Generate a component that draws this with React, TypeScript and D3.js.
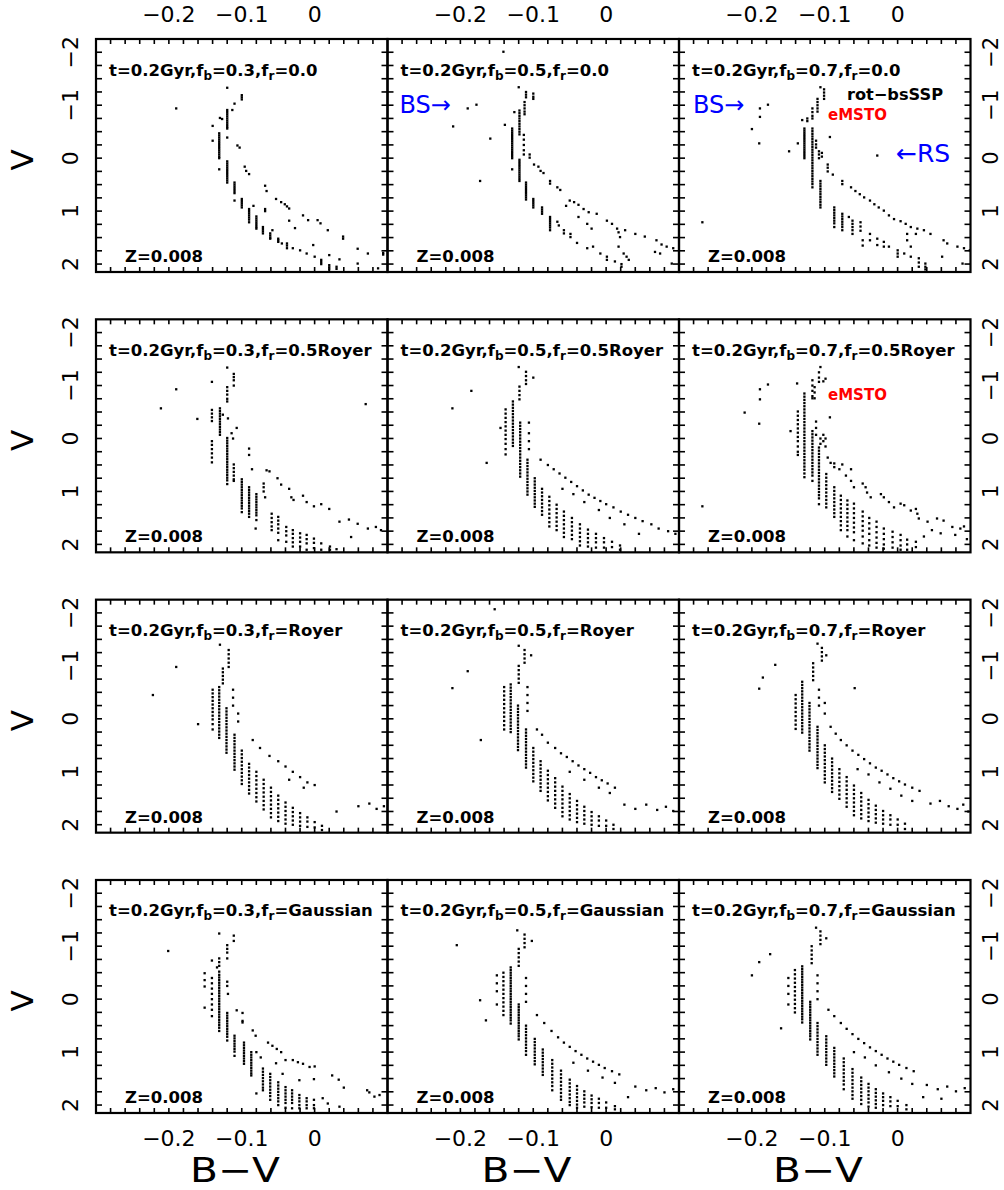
import React from 'react';
import * as d3 from 'd3';

// ---- labels / ticks ----
const fbValues = ['0.3', '0.5', '0.7'];
const frValues = ['0.0', '0.5Royer', 'Royer', 'Gaussian'];
const ageLabel = 't=0.2Gyr';
const metalLabel = 'Z=0.008';
const xTickValues = [-0.2, -0.1, 0];
const yTickValues = [-2, -1, 0, 1, 2];
const xDomain = [-0.3, 0.1];
const yDomain = [-2.25, 2.15];

// each column: [B-V, V, V, ...]
const p00 = [
  [-0.190, -0.94],
  [-0.120, -1.33, -0.91, -0.87, -0.83, -0.79, -0.75, -0.71, -0.67, -0.63, -0.59, -0.56, -0.39],
  [-0.100, -1.19, -1.15, -1.11], [-0.110, -1.03], [-0.113, -0.91], [-0.130, -0.76], [-0.127, -0.74],
  [-0.140, -0.61, -0.33],
  [-0.131, -0.47, -0.43, -0.39, -0.35, -0.31, -0.27, -0.23, -0.19, -0.15, -0.11, -0.07, -0.03, 0.0, 0.21],
  [-0.106, -0.24], [-0.103, -0.20],
  [-0.120, 0.06, 0.10, 0.14, 0.18, 0.22, 0.26, 0.30, 0.34, 0.38, 0.42, 0.46],
  [-0.096, 0.16], [-0.094, 0.24], [-0.090, 0.30],
  [-0.110, 0.46, 0.50, 0.54, 0.58, 0.62, 0.66, 0.80],
  [-0.068, 0.52], [-0.066, 0.62],
  [-0.100, 0.77, 0.81, 0.85, 0.89, 0.93], [-0.084, 0.90],
  [-0.053, 0.77], [-0.046, 0.83], [-0.041, 0.87], [-0.038, 0.91], [-0.035, 0.95],
  [-0.068, 0.96, 1.00],
  [-0.090, 0.96, 1.00, 1.04, 1.08, 1.12, 1.16, 1.21],
  [-0.035, 1.18], [-0.027, 1.32],
  [-0.016, 1.08], [-0.009, 1.17], [0.004, 1.17], [0.008, 1.23], [0.018, 1.36],
  [-0.080, 1.10, 1.14, 1.18, 1.22, 1.26, 1.30, 1.33],
  [-0.071, 1.30, 1.34, 1.38, 1.42],
  [-0.061, 1.42, 1.46, 1.50, 1.52], [-0.058, 1.36],
  [-0.050, 1.52, 1.55, 1.58], [-0.045, 1.61], [-0.038, 1.61, 1.65, 1.70], [-0.030, 1.70],
  [-0.020, 1.74], [-0.011, 1.80], [0.000, 1.86], [0.009, 1.92, 1.96, 2.00],
  [0.020, 2.02, 2.06, 2.10], [0.030, 2.05, 2.09],
  [0.039, 1.48, 1.52], [0.059, 1.71, 1.99], [0.073, 1.80], [0.094, 1.79, 1.82], [0.087, 2.08],
  [-0.002, 1.64], [0.020, 1.83], [0.034, 1.91],
];

const p01 = [
  [-0.141, -2.01], [-0.120, -1.34],
  [-0.110, -1.25, -1.20, -1.15], [-0.100, -1.22, -1.16, -1.12],
  [-0.112, -1.06, -1.00, -0.94, -0.88, -0.83],
  [-0.119, -0.90, -0.85, -0.80, -0.75, -0.70, -0.65, -0.60, -0.55, -0.50, -0.45],
  [-0.126, -0.87],
  [-0.190, -0.94], [-0.178, -1.01], [-0.210, -0.60], [-0.159, -0.37], [-0.173, 0.43], [-0.139, -0.63],
  [-0.129, -0.56, -0.52, -0.48, -0.44, -0.40, -0.36, -0.32, -0.28, -0.24, -0.20, -0.16, -0.12, -0.08, -0.04, 0.00, 0.21],
  [-0.113, -0.44, -0.35, -0.25, -0.15, -0.07],
  [-0.119, 0.03, 0.07, 0.11, 0.15, 0.19, 0.23, 0.27, 0.31, 0.35, 0.39, 0.43],
  [-0.105, -0.07, -0.01],
  [-0.099, 0.12], [-0.093, 0.16], [-0.090, 0.24], [-0.086, 0.28],
  [-0.077, 0.43, 0.48],
  [-0.110, 0.46, 0.50, 0.54, 0.58, 0.62, 0.66, 0.70, 0.74, 0.78],
  [-0.067, 0.55], [-0.063, 0.60],
  [-0.100, 0.77, 0.81, 0.85, 0.89, 0.93],
  [-0.050, 0.80], [-0.044, 0.83], [-0.038, 0.88], [-0.031, 0.96], [-0.024, 1.02], [-0.013, 1.05],
  [-0.088, 0.93, 0.97, 1.01, 1.05], [-0.055, 0.90],
  [-0.077, 1.11, 1.15, 1.19, 1.23, 1.27, 1.31, 1.36],
  [-0.067, 1.20], [-0.065, 1.27],
  [-0.058, 1.36, 1.42], [-0.049, 1.43, 1.49], [-0.040, 1.60], [-0.026, 1.70], [-0.018, 1.67],
  [-0.008, 1.80], [0.001, 1.86, 1.92], [0.012, 1.95], [0.021, 2.00, 2.05],
  [-0.038, 1.11], [-0.026, 1.24], [-0.020, 1.33],
  [0.001, 1.18], [0.008, 1.24], [0.015, 1.33], [0.017, 1.40], [0.019, 1.49], [0.026, 1.36], [0.040, 1.43], [0.053, 1.48],
  [0.017, 1.67], [0.024, 1.80], [0.028, 1.86], [0.031, 1.92],
  [0.069, 1.55], [0.076, 1.63], [0.083, 1.67], [0.092, 1.70], [0.067, 1.77], [0.074, 1.80], [0.090, 1.99],
];

const p02 = [
  [-0.106, -1.34],
  [-0.101, -1.30, -1.24, -1.18, -1.12],
  [-0.110, -1.12, -1.06, -1.00, -0.94, -0.88],
  [-0.117, -0.94, -0.87, -0.80, -0.75],
  [-0.124, -0.75, -0.70], [-0.131, -0.72],
  [-0.128, -0.56, -0.52, -0.48, -0.44, -0.40, -0.36, -0.32, -0.28, -0.24, -0.20, -0.16, -0.12, -0.08, -0.04, 0.00],
  [-0.137, -0.28], [-0.149, -0.13],
  [-0.189, -0.94, -0.78], [-0.178, -1.01], [-0.200, -0.55], [-0.190, -0.28], [-0.268, 1.21],
  [-0.117, -0.56, -0.51, -0.46, -0.41, -0.36, -0.31, -0.26, -0.21, -0.16, -0.11, -0.06, -0.01, 0.04, 0.09, 0.14, 0.19, 0.24, 0.29, 0.34, 0.39, 0.44, 0.49, 0.55],
  [-0.112, -0.33, -0.26, -0.20],
  [-0.108, -0.13, -0.07, 0.00], [-0.104, -0.10, -0.03],
  [-0.093, -0.40], [-0.028, -0.05],
  [-0.096, 0.12, 0.18, 0.25], [-0.089, 0.31],
  [-0.106, 0.43, 0.48, 0.53, 0.58, 0.63, 0.68, 0.73, 0.78, 0.83, 0.88, 0.93],
  [-0.076, 0.43, 0.49],
  [-0.064, 0.55], [-0.058, 0.62], [-0.052, 0.68], [-0.046, 0.74], [-0.038, 0.80], [-0.032, 0.87],
  [-0.026, 0.93], [-0.019, 0.99], [-0.012, 1.08], [-0.005, 1.15], [0.004, 1.19], [0.011, 1.24],
  [0.018, 1.30], [0.027, 1.33], [0.036, 1.36], [0.045, 1.43],
  [-0.087, 0.93, 0.98, 1.03, 1.08, 1.13, 1.18, 1.23, 1.30],
  [-0.076, 1.05, 1.10, 1.15, 1.20, 1.25, 1.30, 1.36],
  [-0.062, 1.18, 1.24, 1.30, 1.36, 1.43], [-0.067, 1.11],
  [-0.051, 1.21, 1.29, 1.37], [-0.048, 1.55, 1.65],
  [-0.038, 1.43, 1.55], [-0.028, 1.52, 1.64], [-0.019, 1.58, 1.67], [-0.012, 1.67],
  [0.000, 1.74, 1.80, 1.86], [0.009, 1.80], [0.018, 1.86], [0.029, 1.89, 1.97, 2.05], [0.038, 1.99, 2.05, 2.10],
  [0.013, 1.43, 1.55], [0.018, 1.67], [0.025, 1.43],
  [0.063, 1.55], [0.068, 1.61], [0.082, 1.67], [0.091, 1.70], [0.099, 1.74], [0.089, 1.99], [0.061, 1.86],
];

const p10 = [
  [-0.120, -1.34], [-0.111, -1.22, -1.16, -1.10, -1.00], [-0.141, -1.07],
  [-0.120, -0.97, -0.90, -0.83, -0.75, -0.70],
  [-0.190, -0.93], [-0.211, -0.57], [-0.161, -0.37], [0.070, -0.65],
  [-0.141, -0.54, -0.47, -0.40, -0.33],
  [-0.130, -0.57, -0.52, -0.47, -0.42, -0.37, -0.32, -0.27, -0.22, -0.17, -0.12, -0.07],
  [-0.126, -0.45], [-0.119, -0.38],
  [-0.114, -0.10], [-0.107, -0.20], [-0.112, 0.00],
  [-0.141, 0.05, 0.12, 0.20, 0.28, 0.36, 0.45],
  [-0.120, -0.01, 0.04, 0.09, 0.14, 0.19, 0.24, 0.29, 0.34, 0.39, 0.44, 0.49, 0.54, 0.59, 0.64, 0.69, 0.74, 0.79, 0.86],
  [-0.090, 0.19, 0.31],
  [-0.111, 0.49, 0.56, 0.63, 0.70, 0.77, 0.80],
  [-0.086, 0.58],
  [-0.100, 0.77, 0.82, 0.87, 0.92, 0.97, 1.02, 1.07, 1.12, 1.17, 1.22, 1.27, 1.32, 1.39],
  [-0.066, 0.60], [-0.062, 0.62], [-0.051, 0.75],
  [-0.046, 0.87], [-0.035, 0.95], [-0.032, 1.11], [-0.029, 1.16], [-0.016, 1.08], [-0.011, 1.20],
  [-0.001, 1.28], [0.009, 1.24], [0.020, 1.33],
  [-0.090, 0.92, 0.97, 1.02, 1.07, 1.12, 1.17, 1.22, 1.27, 1.32, 1.37, 1.42, 1.48],
  [-0.080, 1.05, 1.10, 1.15, 1.20, 1.25, 1.30, 1.35, 1.40, 1.45, 1.54],
  [-0.070, 0.85, 0.92, 1.00], [-0.068, 1.11],
  [-0.059, 1.42, 1.50, 1.58, 1.66, 1.73],
  [-0.050, 1.48, 1.55, 1.62, 1.70, 1.78, 1.92],
  [-0.039, 1.67, 1.75, 1.83, 1.95],
  [-0.030, 1.73, 1.80, 1.88, 1.96, 2.04],
  [-0.020, 1.79, 1.87, 1.95, 2.04],
  [-0.011, 1.82, 1.90, 1.98, 2.10],
  [-0.001, 1.89, 1.97, 2.07], [0.009, 1.98, 2.10], [0.021, 2.04, 2.10], [0.030, 2.09],
  [-0.081, 1.70],
  [0.034, 1.57], [0.047, 1.53], [0.059, 1.61], [0.073, 1.70], [0.084, 1.67], [0.091, 1.73], [0.050, 1.86],
];

const p11 = [
  [-0.120, -1.35], [-0.110, -1.26, -1.18, -1.10, -1.03], [-0.100, -1.15],
  [-0.119, -0.98, -0.90, -0.82, -0.74],
  [-0.211, -0.57], [-0.164, 0.46], [-0.145, -0.20], [-0.185, -0.90],
  [-0.138, -0.55, -0.47, -0.39, -0.31, -0.23, -0.15, -0.07, 0.01, 0.10, 0.20, 0.30],
  [-0.128, -0.70, -0.64, -0.58, -0.52, -0.46, -0.40, -0.34, -0.28, -0.22, -0.16, -0.10, -0.04, 0.02, 0.08, 0.14],
  [-0.118, -0.30, -0.24, -0.18, -0.12, -0.06, 0.00, 0.06, 0.12, 0.18, 0.24, 0.30, 0.36, 0.42, 0.48, 0.54, 0.60, 0.66, 0.72],
  [-0.106, -0.30, -0.10, 0.05, 0.20],
  [-0.108, 0.40, 0.46, 0.52, 0.58, 0.64, 0.70, 0.76, 0.82, 0.88, 0.94, 1.00, 1.06],
  [-0.098, 0.75, 0.81, 0.87, 0.93, 0.99, 1.05, 1.11, 1.17, 1.23, 1.29],
  [-0.088, 0.95, 1.02, 1.09, 1.16, 1.23, 1.30, 1.37, 1.44],
  [-0.078, 1.10, 1.18, 1.26, 1.34, 1.42, 1.50, 1.58, 1.66],
  [-0.068, 1.25, 1.33, 1.41, 1.49, 1.57, 1.65, 1.73],
  [-0.058, 1.38, 1.46, 1.54, 1.62, 1.70, 1.78, 1.86],
  [-0.047, 1.50, 1.58, 1.66, 1.74, 1.82, 1.90],
  [-0.036, 1.62, 1.70, 1.78, 1.86, 1.94, 2.02],
  [-0.025, 1.72, 1.80, 1.88, 1.96, 2.04],
  [-0.014, 1.80, 1.88, 1.96, 2.06], [-0.003, 1.88, 1.96, 2.06], [0.008, 1.95, 2.05], [0.019, 2.02, 2.10],
  [-0.090, 0.40], [-0.080, 0.50], [-0.072, 0.58], [-0.064, 0.66], [-0.056, 0.74], [-0.048, 0.82],
  [-0.040, 0.90], [-0.032, 0.98], [-0.024, 1.06], [-0.016, 1.12], [-0.008, 1.18], [0.000, 1.24],
  [0.010, 1.30], [0.020, 1.38], [0.030, 1.44], [0.040, 1.50], [0.050, 1.56], [0.062, 1.62],
  [-0.060, 0.95], [-0.045, 1.05], [-0.030, 1.20], [-0.010, 1.35], [0.005, 1.50], [0.025, 1.62],
  [0.072, 1.70], [0.085, 1.75], [0.095, 1.80], [0.045, 1.80],
];

const p12 = [
  [-0.106, -1.35], [-0.108, -1.25, -1.15, -1.07], [-0.099, -1.13], [-0.102, -1.08], [-0.138, -1.04],
  [-0.117, -1.10, -1.00, -0.90, -0.80, -0.76], [-0.114, -0.97, -0.87, -0.76],
  [-0.189, -0.93, -0.74], [-0.178, -1.02], [-0.210, -0.49], [-0.190, -0.28], [-0.268, 1.28],
  [-0.147, -0.14], [-0.093, -0.40],
  [-0.128, -0.85, -0.79, -0.73, -0.67, -0.61, -0.55, -0.49, -0.43, -0.37, -0.31, -0.25, -0.19, -0.13, -0.07, -0.01, 0.05, 0.11, 0.17, 0.23, 0.29, 0.35, 0.41, 0.47, 0.53, 0.59, 0.66, 0.73],
  [-0.137, -0.51, -0.43, -0.35, -0.27, -0.19, -0.11, -0.03, 0.05, 0.15, 0.25, 0.31],
  [-0.117, -0.14, -0.08, -0.02, 0.04, 0.10, 0.16, 0.22, 0.28, 0.34, 0.40, 0.46, 0.52, 0.58, 0.64, 0.70, 0.80],
  [-0.112, -0.32, -0.20, -0.07],
  [-0.106, 0.00, 0.10], [-0.102, -0.07, 0.05], [-0.099, 0.00, 0.15],
  [-0.108, 0.17, 0.23, 0.29, 0.35, 0.41, 0.47, 0.53, 0.59, 0.65, 0.71, 0.77, 0.83, 0.89, 0.95, 1.01, 1.07, 1.13, 1.24],
  [-0.096, 0.36], [-0.092, 0.46],
  [-0.098, 0.67, 0.74, 0.81, 0.88, 0.95, 1.02, 1.09, 1.16, 1.23, 1.30],
  [-0.087, 0.54, 0.47],
  [-0.087, 0.92, 0.99, 1.06, 1.13, 1.20, 1.27, 1.34, 1.41, 1.48],
  [-0.080, 0.58], [-0.076, 0.49], [-0.071, 0.70], [-0.064, 0.58, 0.80], [-0.060, 0.92],
  [-0.048, 0.85], [-0.044, 0.92], [-0.042, 1.02], [-0.037, 1.11], [-0.023, 1.05], [-0.019, 1.11],
  [-0.012, 1.20], [-0.005, 1.30], [0.004, 1.23], [0.009, 1.26], [0.018, 1.36], [0.025, 1.33],
  [0.027, 1.42], [0.029, 1.51],
  [-0.078, 1.08, 1.16, 1.24, 1.32, 1.40, 1.48, 1.56, 1.64, 1.73],
  [-0.069, 1.17, 1.25, 1.33, 1.41, 1.49, 1.57, 1.65, 1.73, 1.85],
  [-0.060, 1.23, 1.32, 1.41, 1.50, 1.59, 1.68, 1.77, 1.92],
  [-0.048, 1.38, 1.47, 1.56, 1.65, 1.74, 1.85, 1.98],
  [-0.039, 1.50, 1.60, 1.70, 1.80, 1.92, 2.02],
  [-0.029, 1.57, 1.67, 1.77, 1.87, 1.97, 2.06],
  [-0.019, 1.70, 1.80, 1.90, 2.00, 2.08],
  [-0.007, 1.76, 1.86, 1.96, 2.06],
  [0.004, 1.82, 1.92, 2.02, 2.10], [0.013, 1.91, 2.00, 2.10], [0.025, 1.95, 2.05],
  [0.041, 1.57], [0.054, 1.51], [0.063, 1.55], [0.036, 1.85], [0.047, 1.73], [0.075, 1.67],
  [0.086, 1.70], [0.091, 1.66], [0.059, 1.79], [0.079, 1.82], [0.095, 1.90],
];

const p20 = [
  [-0.190, -0.98], [-0.222, -0.45], [-0.160, 0.10],
  [-0.130, -1.40], [-0.118, -1.30, -1.22, -1.14, -1.06, -0.98],
  [-0.126, -0.95, -0.88, -0.81, -0.74, -0.67],
  [-0.140, -0.55, -0.48, -0.41, -0.34, -0.27, -0.20, -0.13, -0.06, 0.01, 0.10, 0.20],
  [-0.131, -0.60, -0.54, -0.48, -0.42, -0.36, -0.30, -0.24, -0.18, -0.12, -0.06, 0.00, 0.06, 0.12, 0.18, 0.24, 0.30, 0.36],
  [-0.121, -0.20, -0.14, -0.08, -0.02, 0.04, 0.10, 0.16, 0.22, 0.28, 0.34, 0.40, 0.46, 0.52, 0.58, 0.64],
  [-0.110, 0.30, 0.36, 0.42, 0.48, 0.54, 0.60, 0.66, 0.72, 0.78, 0.84, 0.90, 0.96],
  [-0.112, -0.55, -0.40, -0.25], [-0.105, -0.10, 0.05],
  [-0.100, 0.60, 0.67, 0.74, 0.81, 0.88, 0.95, 1.02, 1.09, 1.16, 1.23],
  [-0.090, 0.85, 0.92, 0.99, 1.06, 1.13, 1.20, 1.27, 1.34, 1.41],
  [-0.080, 1.00, 1.08, 1.16, 1.24, 1.32, 1.40, 1.48, 1.56],
  [-0.070, 1.15, 1.23, 1.31, 1.39, 1.47, 1.55, 1.63, 1.71],
  [-0.060, 1.30, 1.38, 1.46, 1.54, 1.62, 1.70, 1.78, 1.86],
  [-0.050, 1.45, 1.53, 1.61, 1.69, 1.77, 1.85, 1.93],
  [-0.040, 1.58, 1.66, 1.74, 1.82, 1.90, 1.98],
  [-0.030, 1.68, 1.76, 1.84, 1.92, 2.00],
  [-0.020, 1.78, 1.86, 1.94, 2.02], [-0.010, 1.86, 1.94, 2.04], [0.000, 1.95, 2.05], [0.010, 2.02, 2.10],
  [-0.085, 0.40], [-0.075, 0.55], [-0.062, 0.70], [-0.050, 0.80], [-0.040, 0.90], [-0.030, 1.00],
  [-0.020, 1.10], [-0.010, 1.20], [0.000, 1.25], [-0.035, 1.15], [-0.015, 1.30],
  [0.060, 1.65], [0.075, 1.60], [0.085, 1.70], [0.095, 1.65], [0.030, 1.75],
];

const p21 = [
  [-0.153, -2.07], [-0.211, -0.58], [-0.190, -0.90], [-0.172, 0.40],
  [-0.120, -1.38], [-0.112, -1.30, -1.22, -1.14, -1.06], [-0.103, -1.20],
  [-0.120, -1.00, -0.92, -0.84, -0.76, -0.68],
  [-0.140, -0.60, -0.52, -0.44, -0.36, -0.28, -0.20, -0.12, -0.04, 0.04, 0.12, 0.20],
  [-0.131, -0.65, -0.59, -0.53, -0.47, -0.41, -0.35, -0.29, -0.23, -0.17, -0.11, -0.05, 0.01, 0.07, 0.13, 0.19, 0.25],
  [-0.121, -0.25, -0.19, -0.13, -0.07, -0.01, 0.05, 0.11, 0.17, 0.23, 0.29, 0.35, 0.41, 0.47, 0.53, 0.59],
  [-0.110, 0.20, 0.26, 0.32, 0.38, 0.44, 0.50, 0.56, 0.62, 0.68, 0.74, 0.80, 0.86, 0.92],
  [-0.108, -0.60, -0.45, -0.30, -0.15],
  [-0.100, 0.55, 0.62, 0.69, 0.76, 0.83, 0.90, 0.97, 1.04, 1.11, 1.18],
  [-0.090, 0.80, 0.87, 0.94, 1.01, 1.08, 1.15, 1.22, 1.29, 1.36],
  [-0.080, 0.98, 1.06, 1.14, 1.22, 1.30, 1.38, 1.46, 1.54],
  [-0.070, 1.12, 1.20, 1.28, 1.36, 1.44, 1.52, 1.60, 1.68],
  [-0.060, 1.28, 1.36, 1.44, 1.52, 1.60, 1.68, 1.76, 1.84],
  [-0.050, 1.42, 1.50, 1.58, 1.66, 1.74, 1.82, 1.90],
  [-0.040, 1.55, 1.63, 1.71, 1.79, 1.87, 1.95],
  [-0.030, 1.66, 1.74, 1.82, 1.90, 1.98],
  [-0.020, 1.76, 1.84, 1.92, 2.00], [-0.010, 1.84, 1.92, 2.02], [0.000, 1.92, 2.02], [0.010, 2.00, 2.08],
  [-0.095, 0.20], [-0.088, 0.30], [-0.080, 0.45], [-0.070, 0.55], [-0.062, 0.65], [-0.054, 0.72],
  [-0.046, 0.80], [-0.038, 0.88], [-0.030, 0.95], [-0.022, 1.02], [-0.014, 1.10], [-0.006, 1.16],
  [0.002, 1.22], [0.012, 1.30], [-0.050, 1.00], [-0.030, 1.15], [-0.010, 1.30], [0.005, 1.40],
  [0.040, 1.70], [0.055, 1.62], [0.070, 1.72], [0.082, 1.66], [0.092, 1.74], [0.025, 1.62],
];

const p22 = [
  [-0.168, -1.02], [-0.190, -0.57], [-0.185, -0.78], [-0.059, -0.58],
  [-0.110, -1.42], [-0.104, -1.34, -1.26, -1.18, -1.10], [-0.098, -1.20],
  [-0.116, -1.05, -0.97, -0.89, -0.81, -0.73],
  [-0.140, -0.45, -0.37, -0.29, -0.21, -0.13, -0.05, 0.03, 0.11, 0.19],
  [-0.131, -0.70, -0.64, -0.58, -0.52, -0.46, -0.40, -0.34, -0.28, -0.22, -0.16, -0.10, -0.04, 0.02, 0.08, 0.14, 0.20, 0.26],
  [-0.121, -0.30, -0.24, -0.18, -0.12, -0.06, 0.00, 0.06, 0.12, 0.18, 0.24, 0.30, 0.36, 0.42, 0.48, 0.54, 0.60],
  [-0.110, 0.15, 0.21, 0.27, 0.33, 0.39, 0.45, 0.51, 0.57, 0.63, 0.69, 0.75, 0.81, 0.87, 0.93],
  [-0.108, -0.55, -0.40, -0.25], [-0.100, -0.30, -0.10],
  [-0.100, 0.50, 0.57, 0.64, 0.71, 0.78, 0.85, 0.92, 0.99, 1.06, 1.13, 1.20],
  [-0.090, 0.75, 0.82, 0.89, 0.96, 1.03, 1.10, 1.17, 1.24, 1.31, 1.38],
  [-0.080, 0.95, 1.03, 1.11, 1.19, 1.27, 1.35, 1.43, 1.51],
  [-0.070, 1.10, 1.18, 1.26, 1.34, 1.42, 1.50, 1.58, 1.66],
  [-0.060, 1.26, 1.34, 1.42, 1.50, 1.58, 1.66, 1.74, 1.82],
  [-0.050, 1.40, 1.48, 1.56, 1.64, 1.72, 1.80, 1.88],
  [-0.040, 1.53, 1.61, 1.69, 1.77, 1.85, 1.93],
  [-0.030, 1.64, 1.72, 1.80, 1.88, 1.96],
  [-0.020, 1.74, 1.82, 1.90, 1.98], [-0.010, 1.82, 1.90, 2.00], [0.000, 1.90, 2.00], [0.010, 1.98, 2.08],
  [-0.092, 0.15], [-0.085, 0.28], [-0.078, 0.40], [-0.070, 0.50], [-0.062, 0.60], [-0.054, 0.68],
  [-0.046, 0.76], [-0.038, 0.84], [-0.030, 0.92], [-0.022, 0.98], [-0.014, 1.05], [-0.006, 1.12],
  [0.002, 1.18], [0.010, 1.24], [0.020, 1.30], [0.030, 1.36], [-0.055, 0.95], [-0.040, 1.05],
  [-0.025, 1.20], [-0.010, 1.32], [0.005, 1.45], [0.020, 1.55],
  [0.045, 1.60], [0.058, 1.55], [0.070, 1.65], [0.082, 1.70], [0.090, 1.62], [0.097, 1.75],
];

const p30 = [
  [-0.201, -0.91], [-0.131, -1.24], [-0.111, -1.20, -1.10],
  [-0.120, -1.02, -0.95, -0.88, -0.77],
  [-0.131, -0.77, -0.70, -0.63, -0.52], [-0.141, -0.73], [-0.134, -0.60],
  [-0.151, -0.49, -0.36, -0.24, 0.16],
  [-0.141, -0.40, -0.30, -0.20, -0.10, 0.00, 0.10, 0.20, 0.32],
  [-0.131, -0.46, -0.41, -0.36, -0.31, -0.26, -0.21, -0.16, -0.11, -0.06, -0.01, 0.04, 0.09, 0.14, 0.19, 0.24, 0.29, 0.34, 0.39, 0.44, 0.49, 0.54, 0.60],
  [-0.120, -0.33, -0.25], [-0.119, -0.10],
  [-0.120, 0.26, 0.31, 0.36, 0.41, 0.46, 0.51, 0.56, 0.61, 0.66, 0.71, 0.78],
  [-0.107, 0.21], [-0.099, 0.26, 0.41, 0.44],
  [-0.110, 0.69, 0.74, 0.79, 0.84, 0.89, 0.94, 0.99, 1.07],
  [-0.085, 0.59], [-0.081, 0.69],
  [-0.097, 0.82, 0.87, 0.92, 0.97, 1.02, 1.07, 1.12, 1.17, 1.22],
  [-0.087, 1.00, 1.05, 1.10, 1.15, 1.20, 1.25, 1.30, 1.35, 1.40, 1.44],
  [-0.080, 1.00], [-0.074, 1.10],
  [-0.064, 0.82], [-0.058, 0.88], [-0.052, 0.94], [-0.046, 1.00], [-0.040, 1.15], [-0.030, 1.15],
  [-0.023, 1.19], [-0.016, 1.22], [-0.007, 1.28], [0.000, 1.27], [-0.001, 1.51], [0.024, 1.44],
  [0.033, 1.52], [0.040, 1.67], [0.072, 1.72], [0.075, 1.76], [0.082, 1.84], [0.089, 1.81],
  [-0.071, 1.31, 1.37, 1.43, 1.49, 1.55, 1.61, 1.67, 1.72],
  [-0.080, 1.78],
  [-0.061, 1.41, 1.47, 1.53, 1.59, 1.65, 1.71, 1.77, 1.83, 1.90],
  [-0.053, 1.21],
  [-0.050, 1.57, 1.63, 1.69, 1.75, 1.81, 1.87, 1.93, 2.00],
  [-0.044, 1.41],
  [-0.040, 1.66, 1.72, 1.78, 1.84, 1.90, 1.96, 2.05],
  [-0.031, 1.72, 1.78, 1.84, 1.90, 1.96, 2.06],
  [-0.021, 1.53], [-0.021, 1.81, 1.87, 1.93, 2.00, 2.06],
  [-0.011, 1.87, 1.93, 2.00, 2.06],
  [-0.001, 1.90, 2.00, 2.06],
  [0.011, 1.87], [0.018, 1.97], [0.034, 2.03],
];

const p31 = [
  [-0.205, -1.02], [-0.173, 0.02], [-0.165, 0.40],
  [-0.122, -1.30], [-0.112, -1.22, -1.14, -1.06, -0.98], [-0.102, -1.10],
  [-0.120, -0.95, -0.87, -0.79, -0.71, -0.63],
  [-0.150, -0.45, -0.30, -0.15, 0.10],
  [-0.141, -0.50, -0.42, -0.34, -0.26, -0.18, -0.10, -0.02, 0.06, 0.14, 0.22, 0.30],
  [-0.131, -0.60, -0.55, -0.50, -0.45, -0.40, -0.35, -0.30, -0.25, -0.20, -0.15, -0.10, -0.05, 0.00, 0.05, 0.10, 0.15, 0.20, 0.25, 0.30, 0.35, 0.40, 0.46],
  [-0.120, 0.10, 0.15, 0.20, 0.25, 0.30, 0.35, 0.40, 0.45, 0.50, 0.55, 0.60, 0.65, 0.70, 0.76],
  [-0.110, -0.40, -0.25, -0.10, 0.05],
  [-0.110, 0.50, 0.56, 0.62, 0.68, 0.74, 0.80, 0.86, 0.92, 0.98, 1.05],
  [-0.098, 0.75, 0.81, 0.87, 0.93, 0.99, 1.05, 1.11, 1.17, 1.23],
  [-0.087, 0.95, 1.01, 1.07, 1.13, 1.19, 1.25, 1.31, 1.37, 1.43],
  [-0.074, 1.15, 1.22, 1.29, 1.36, 1.43, 1.50, 1.57, 1.64, 1.72],
  [-0.062, 1.35, 1.42, 1.49, 1.56, 1.63, 1.70, 1.77, 1.84, 1.90],
  [-0.050, 1.52, 1.59, 1.66, 1.73, 1.80, 1.87, 1.94, 2.00],
  [-0.040, 1.64, 1.71, 1.78, 1.85, 1.92, 1.99, 2.05],
  [-0.030, 1.74, 1.81, 1.88, 1.95, 2.03],
  [-0.020, 1.82, 1.89, 1.96, 2.04], [-0.010, 1.88, 1.96, 2.05], [0.000, 1.95, 2.05], [0.012, 2.02, 2.08],
  [-0.095, 0.30], [-0.085, 0.45], [-0.075, 0.60], [-0.066, 0.72], [-0.058, 0.82], [-0.050, 0.90],
  [-0.042, 0.98], [-0.034, 1.05], [-0.026, 1.12], [-0.018, 1.18], [-0.010, 1.24], [-0.002, 1.30],
  [0.008, 1.36], [0.018, 1.42], [-0.045, 1.20], [-0.025, 1.35], [-0.005, 1.48], [0.012, 1.58],
  [0.040, 1.65], [0.055, 1.72], [0.068, 1.68], [0.080, 1.76], [0.092, 1.70], [0.030, 1.85],
];

const p32 = [
  [-0.190, -0.70], [-0.200, -0.45], [-0.175, -0.85], [-0.160, 0.55],
  [-0.112, -1.35], [-0.106, -1.28, -1.20, -1.12, -1.04], [-0.098, -1.15],
  [-0.118, -1.00, -0.92, -0.84, -0.76, -0.68],
  [-0.150, -0.40, -0.25, -0.10, 0.10],
  [-0.141, -0.55, -0.47, -0.39, -0.31, -0.23, -0.15, -0.07, 0.01, 0.09, 0.17, 0.25],
  [-0.131, -0.62, -0.57, -0.52, -0.47, -0.42, -0.37, -0.32, -0.27, -0.22, -0.17, -0.12, -0.07, -0.02, 0.03, 0.08, 0.13, 0.18, 0.23, 0.28, 0.33, 0.38, 0.44],
  [-0.120, 0.05, 0.10, 0.15, 0.20, 0.25, 0.30, 0.35, 0.40, 0.45, 0.50, 0.55, 0.60, 0.65, 0.70, 0.76],
  [-0.110, -0.45, -0.30, -0.15, 0.00],
  [-0.110, 0.45, 0.51, 0.57, 0.63, 0.69, 0.75, 0.81, 0.87, 0.93, 0.99, 1.05],
  [-0.098, 0.70, 0.76, 0.82, 0.88, 0.94, 1.00, 1.06, 1.12, 1.18, 1.24],
  [-0.087, 0.92, 0.98, 1.04, 1.10, 1.16, 1.22, 1.28, 1.34, 1.40, 1.46],
  [-0.074, 1.12, 1.19, 1.26, 1.33, 1.40, 1.47, 1.54, 1.61, 1.70],
  [-0.062, 1.32, 1.39, 1.46, 1.53, 1.60, 1.67, 1.74, 1.81, 1.88],
  [-0.050, 1.48, 1.55, 1.62, 1.69, 1.76, 1.83, 1.90, 1.98],
  [-0.040, 1.60, 1.67, 1.74, 1.81, 1.88, 1.95, 2.03],
  [-0.030, 1.70, 1.77, 1.84, 1.91, 1.98, 2.05],
  [-0.020, 1.78, 1.85, 1.92, 2.00], [-0.010, 1.85, 1.93, 2.02], [0.000, 1.92, 2.02], [0.012, 2.00, 2.08],
  [-0.095, 0.20], [-0.087, 0.32], [-0.078, 0.45], [-0.070, 0.56], [-0.062, 0.66], [-0.054, 0.75],
  [-0.046, 0.83], [-0.038, 0.91], [-0.030, 0.98], [-0.022, 1.05], [-0.014, 1.12], [-0.006, 1.18],
  [0.002, 1.24], [0.012, 1.30], [0.022, 1.36], [-0.060, 1.00], [-0.045, 1.10], [-0.030, 1.25],
  [-0.012, 1.38], [0.005, 1.50], [0.020, 1.60],
  [0.040, 1.62], [0.055, 1.70], [0.068, 1.65], [0.080, 1.74], [0.092, 1.68], [0.035, 1.85], [0.060, 1.88],
];

const panelData = [
  [p00, p01, p02],
  [p10, p11, p12],
  [p20, p21, p22],
  [p30, p31, p32],
];

// ---- layout ----
const LEFT = 96;
const TOP = 39;
const PW = 291.5;
const PH = 233;
const RSTEP = 280.33;
const FONT = "'DejaVu Sans', 'Liberation Sans', sans-serif";

function fmt(v: number) {
  if (Math.abs(v) < 1e-9) return '0';
  return (v < 0 ? '\u2212' : '') + String(Math.abs(v));
}

function Panel({ r, c }: { r: number; c: number }) {
  const x0 = LEFT + c * PW;
  const y0 = TOP + r * RSTEP;
  const x = d3.scaleLinear().domain(xDomain).range([x0, x0 + PW]);
  const y = d3.scaleLinear().domain(yDomain).range([y0, y0 + PH]);
  const xMinor = d3.range(-14, 5).map((i) => i * 0.02);
  const yMinor = d3.range(-8, 9).map((i) => i * 0.25);
  const pts: [number, number][] = [];
  for (const col of panelData[r][c]) {
    for (let k = 1; k < col.length; k++) pts.push([col[0], col[k]]);
  }
  const clipId = `clip-${r}-${c}`;
  const fb = fbValues[c];
  const fr = frValues[r];
  return (
    <g>
      <defs>
        <clipPath id={clipId}>
          <rect x={x0} y={y0} width={PW} height={PH} />
        </clipPath>
      </defs>
      <g clipPath={`url(#${clipId})`}>
        {pts.map((p, i) => (
          <rect key={i} x={x(p[0]) - 1.1} y={y(p[1]) - 1.1} width={2.3} height={2.3} fill="#000" />
        ))}
      </g>
      {xMinor.map((t, i) => (
        <g key={'xt' + i} stroke="#000" strokeWidth={1.6}>
          <line x1={x(t)} x2={x(t)} y1={y0 + PH} y2={y0 + PH - 5} />
          <line x1={x(t)} x2={x(t)} y1={y0} y2={y0 + 5} />
        </g>
      ))}
      {yMinor.map((t, i) => (
        <g key={'yt' + i} stroke="#000" strokeWidth={1.6}>
          <line x1={x0} x2={x0 + 6} y1={y(t)} y2={y(t)} />
          <line x1={x0 + PW} x2={x0 + PW - 6} y1={y(t)} y2={y(t)} />
        </g>
      ))}
      <rect x={x0} y={y0} width={PW} height={PH} fill="none" stroke="#000" strokeWidth={2.2} />
      <text x={x0 + 13} y={y0 + 36.5} fontFamily={FONT} fontWeight="bold" fontSize={16.5} fill="#000">
        {`${ageLabel},f`}
        <tspan fontSize={12} dy={4}>b</tspan>
        <tspan dy={-4}>{`=${fb},f`}</tspan>
        <tspan fontSize={12} dy={4}>r</tspan>
        <tspan dy={-4}>{`=${fr}`}</tspan>
      </text>
      <text x={x0 + 29} y={y0 + 223} fontFamily={FONT} fontWeight="bold" fontSize={16.5} fill="#000">
        {metalLabel}
      </text>
      {r === 0 &&
        xTickValues.map((t) => (
          <text key={'tx' + t} x={x(t)} y={22} textAnchor="middle" fontFamily={FONT} fontSize={22}>
            {fmt(t)}
          </text>
        ))}
      {r === 3 &&
        xTickValues.map((t) => (
          <text key={'bx' + t} x={x(t)} y={y0 + PH + 33} textAnchor="middle" fontFamily={FONT} fontSize={22}>
            {fmt(t)}
          </text>
        ))}
      {r === 3 && (
        <text x={x0 + 139} y={y0 + PH + 69} textAnchor="middle" fontFamily={FONT} fontSize={34}
          textLength={90} lengthAdjust="spacingAndGlyphs">
          B{'\u2212'}V
        </text>
      )}
      {c === 0 &&
        yTickValues.map((t) => (
          <text key={'ly' + t} transform={`translate(78,${y(t)}) rotate(-90)`} textAnchor="middle"
            fontFamily={FONT} fontSize={22}>
            {fmt(t)}
          </text>
        ))}
      {c === 0 && (
        <text transform={`translate(33,${y0 + 121}) rotate(-90)`} textAnchor="middle" fontFamily={FONT} fontSize={31}>
          V
        </text>
      )}
      {c === 2 &&
        yTickValues.map((t) => (
          <text key={'ry' + t} transform={`translate(998,${y(t)}) rotate(-90)`} textAnchor="middle"
            fontFamily={FONT} fontSize={21}>
            {fmt(t)}
          </text>
        ))}
    </g>
  );
}

export default function App() {
  const rows = d3.range(4);
  const cols = d3.range(3);
  const x1 = LEFT + PW;
  const x2 = LEFT + 2 * PW;
  return (
    <svg width={1004} height={1190} style={{ position: 'absolute', left: 0, top: 0, background: '#fff' }}>
      <rect width={1004} height={1190} fill="#fff" />
      {rows.map((r) => cols.map((c) => <Panel key={`${r}-${c}`} r={r} c={c} />))}
      {/* annotations */}
      <text x={x1 + 12} y={TOP + 74} fontFamily={FONT} fontSize={24} fill="#0000ff">BS{'\u2192'}</text>
      <text x={x2 + 14} y={TOP + 74} fontFamily={FONT} fontSize={24} fill="#0000ff">BS{'\u2192'}</text>
      <text x={x2 + 217} y={TOP + 123} fontFamily={FONT} fontSize={25} fill="#0000ff">{'\u2190'}RS</text>
      <text x={x2 + 168} y={TOP + 61} fontFamily={FONT} fontWeight="bold" fontSize={16} fill="#000"
        textLength={96} lengthAdjust="spacingAndGlyphs">rot{'\u2212'}bsSSP</text>
      <text x={x2 + 149} y={TOP + 81} fontFamily={FONT} fontWeight="bold" fontSize={15} fill="#ff0000">eMSTO</text>
      <text x={x2 + 149} y={TOP + RSTEP + 81} fontFamily={FONT} fontWeight="bold" fontSize={15} fill="#ff0000">eMSTO</text>
    </svg>
  );
}
